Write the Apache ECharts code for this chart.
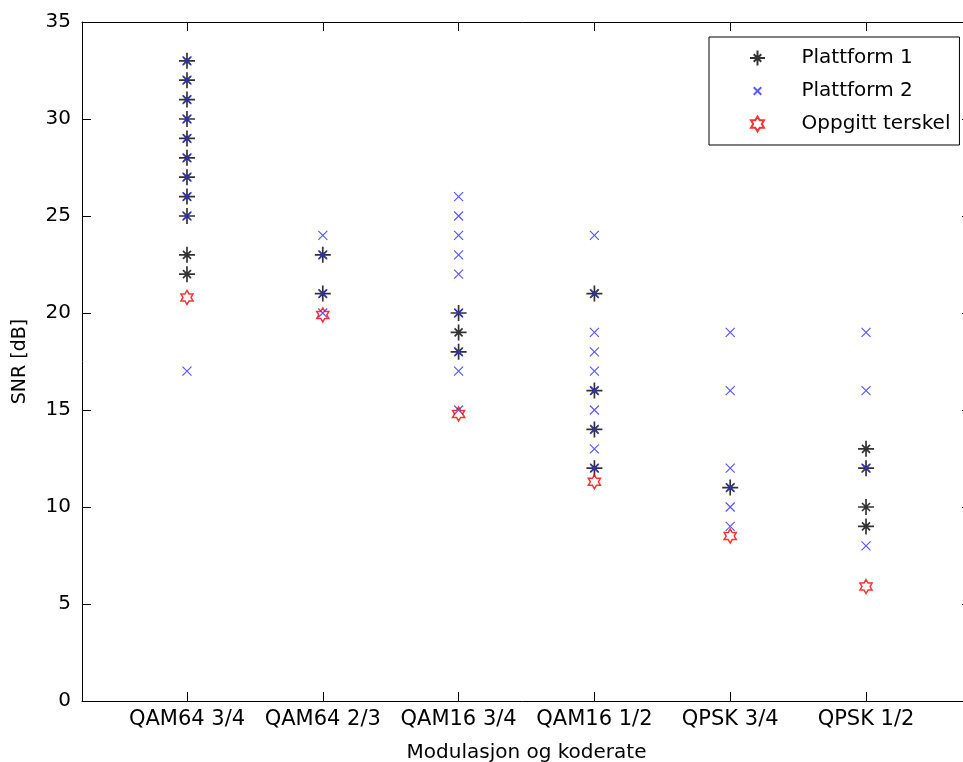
<!DOCTYPE html>
<html>
<head>
<meta charset="utf-8">
<title>SNR per modulasjon</title>
<script src="https://cdn.jsdelivr.net/npm/echarts@6/dist/echarts.min.js"></script>
<style>
  html, body { margin: 0; padding: 0; background: #fff; }
  #chart { width: 963px; height: 762px; }
</style>
</head>
<body>
<div id="chart"></div>
<script>
// SNR thresholds per modulation / code rate
var categories = ['QAM64 3/4', 'QAM64 2/3', 'QAM16 3/4', 'QAM16 1/2', 'QPSK 3/4', 'QPSK 1/2'];

// measured SNR [dB], one list per category
var plattform1 = [
  [33, 32, 31, 30, 29, 28, 27, 26, 25, 23, 22],
  [23, 21],
  [20, 19, 18],
  [21, 16, 14, 12],
  [11],
  [13, 12, 10, 9]
];
var plattform2 = [
  [33, 32, 31, 30, 29, 28, 27, 26, 25, 17],
  [24, 23, 21, 20],
  [26, 25, 24, 23, 22, 20, 18, 17, 15],
  [24, 21, 19, 18, 17, 16, 15, 14, 13, 12],
  [19, 16, 12, 11, 10, 9],
  [19, 16, 12, 8]
];
var terskel = [20.8, 19.9, 14.8, 11.3, 8.5, 5.9];

var yTicks = [0, 5, 10, 15, 20, 25, 30, 35];

var font = 'DejaVu Sans';
var catPos = categories.map(function(c, i) { return i + 1; });

// matlab-like markers
var asterisk = 'path://M0,-1L0,1M-1,0L1,0M-0.5,-0.5L0.5,0.5M-0.5,0.5L0.5,-0.5';
var cross = 'path://M-1,-1L1,1M-1,1L1,-1';
// same cross with empty margin, so the legend draws it small
var crossLegend = 'path://M-2,-2L-2,-2M2,2L2,2M-1,-1L1,1M-1,1L1,-1';
var hexagram = 'path://M0,-1L0.289,-0.5L0.866,-0.5L0.577,0L0.866,0.5L0.289,0.5L0,1L-0.289,0.5L-0.866,0.5L-0.577,0L-0.866,-0.5L-0.289,-0.5Z';

function toPoints(groups) {
  var pts = [];
  groups.forEach(function(vals, i) {
    vals.forEach(function(v) { pts.push([i + 1, v]); });
  });
  return pts;
}

var chart = echarts.init(document.getElementById('chart'), null, { renderer: 'canvas' });
chart.setOption({
  animation: false,
  textStyle: { fontFamily: font },
  grid: { left: 82, top: 22, width: 889, height: 679, containLabel: false, outerBoundsMode: 'none' },
  legend: {
    orient: 'vertical',
    left: 709,
    top: 37,
    padding: [11, 9, 11, 40],
    itemWidth: 78,
    itemHeight: 15,
    itemGap: 13,
    borderColor: '#000',
    borderWidth: 1,
    backgroundColor: '#fff',
    textStyle: { color: '#000', fontSize: 20, fontFamily: font, lineHeight: 20 },
    data: [
      { name: 'Plattform 1' },
      { name: 'Plattform 2', icon: crossLegend },
      { name: 'Oppgitt terskel' }
    ]
  },
  xAxis: [{
    type: 'value',
    position: 'bottom',
    min: 0.227,
    max: 6.773,
    name: 'Modulasjon og koderate',
    nameLocation: 'middle',
    nameGap: 42,
    nameTextStyle: { color: '#000', fontSize: 20, fontFamily: font },
    axisLine: { onZero: false, lineStyle: { color: '#000', width: 1 } },
    axisTick: { inside: true, length: 9, customValues: catPos, lineStyle: { color: '#000' } },
    axisLabel: {
      customValues: catPos,
      margin: 8,
      color: '#000',
      fontSize: 21,
      fontFamily: font,
      formatter: function(v) { return categories[Math.round(v) - 1] || ''; }
    },
    splitLine: { show: false }
  }, {
    type: 'value',
    position: 'top',
    min: 0.227,
    max: 6.773,
    axisLine: { onZero: false, lineStyle: { color: '#000', width: 1 } },
    axisTick: { inside: true, length: 9, customValues: catPos, lineStyle: { color: '#000' } },
    axisLabel: { show: false },
    splitLine: { show: false }
  }],
  yAxis: [{
    type: 'value',
    position: 'left',
    min: 0,
    max: 35,
    interval: 5,
    name: 'SNR [dB]',
    nameLocation: 'middle',
    nameGap: 52,
    nameRotate: 90,
    nameTextStyle: { color: '#000', fontSize: 19, fontFamily: font },
    axisLine: { show: true, onZero: false, lineStyle: { color: '#000', width: 1 } },
    axisTick: { show: true, inside: true, length: 9, lineStyle: { color: '#000' } },
    axisLabel: { color: '#000', fontSize: 20, fontFamily: font, margin: 11 },
    splitLine: { show: false }
  }, {
    type: 'value',
    position: 'right',
    min: 0,
    max: 35,
    interval: 5,
    axisLine: { show: true, onZero: false, lineStyle: { color: '#000', width: 1 } },
    axisTick: { show: true, inside: true, length: 9, lineStyle: { color: '#000' } },
    axisLabel: { show: false },
    splitLine: { show: false }
  }],
  series: [{
    name: 'Plattform 1',
    type: 'scatter',
    symbol: asterisk,
    symbolSize: 16,
    itemStyle: { color: 'transparent', borderColor: '#000', borderWidth: 1.7 },
    emphasis: { disabled: true },
    data: toPoints(plattform1)
  }, {
    name: 'Plattform 2',
    type: 'scatter',
    symbol: cross,
    symbolSize: 9,
    itemStyle: { color: 'transparent', borderColor: '#2f2fff', borderWidth: 1.2 },
    emphasis: { disabled: true },
    data: toPoints(plattform2)
  }, {
    name: 'Oppgitt terskel',
    type: 'scatter',
    symbol: hexagram,
    symbolSize: 14,
    symbolKeepAspect: true,
    itemStyle: { color: 'transparent', borderColor: '#ff0000', borderWidth: 1.5 },
    emphasis: { disabled: true },
    data: terskel.map(function(v, i) { return [i + 1, v]; })
  }]
});
</script>
</body>
</html>
